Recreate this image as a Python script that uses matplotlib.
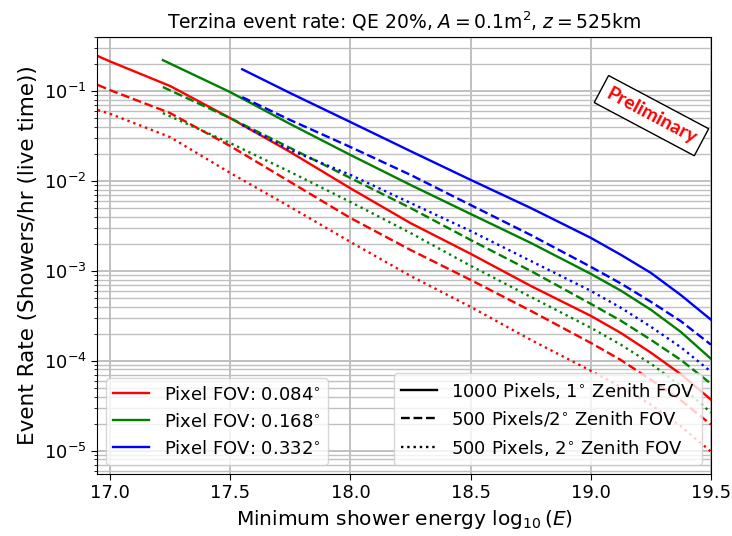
import matplotlib
matplotlib.use("Agg")
import matplotlib.pyplot as plt
from matplotlib.ticker import LogLocator, NullFormatter
from matplotlib.lines import Line2D

# ---- data ----
e_red = [16.95, 17.0, 17.25, 17.5, 17.75, 18.0, 18.25, 18.5, 18.75, 19.0, 19.125, 19.25, 19.375, 19.5]
red_solid = [0.245, 0.214, 0.114, 0.0501, 0.0210, 8.3e-3, 3.4e-3, 1.55e-3, 6.81e-4, 3.16e-4, 2.04e-4, 1.23e-4, 7.08e-5, 3.69e-5]
red_dashed = [0.117, 0.1026, 0.057, 0.0245, 9.75e-3, 3.88e-3, 1.71e-3, 7.94e-4, 3.6e-4, 1.58e-4, 1.02e-4, 6.15e-5, 3.63e-5, 1.95e-5]
red_dotted = [0.0615, 0.056, 0.0308, 0.0123, 5.14e-3, 2.10e-3, 8.79e-4, 3.98e-4, 1.71e-4, 7.74e-5, 5.13e-5, 3.24e-5, 1.86e-5, 9.75e-6]

e_green = [17.22, 17.5, 17.75, 18.0, 18.25, 18.5, 18.75, 19.0, 19.125, 19.25, 19.375, 19.5]
green_solid = [0.221, 0.0975, 0.043, 0.0195, 9.04e-3, 4.30e-3, 2.05e-3, 9.27e-4, 6.03e-4, 3.69e-4, 2.09e-4, 1.05e-4]
green_dashed = [0.111, 0.0501, 0.0233, 0.0108, 5.01e-3, 2.21e-3, 1.0e-3, 4.30e-4, 2.79e-4, 1.71e-4, 1.02e-4, 5.55e-5]
green_dotted = [0.057, 0.0264, 0.0126, 5.85e-3, 2.64e-3, 1.14e-3, 5.14e-4, 2.33e-4, 1.51e-4, 9.27e-5, 5.25e-5, 2.64e-5]

e_blue = [17.55, 17.75, 18.0, 18.25, 18.5, 18.75, 19.0, 19.125, 19.25, 19.375, 19.5]
blue_solid = [0.175, 0.095, 0.0453, 0.0215, 0.0103, 5.01e-3, 2.33e-3, 1.51e-3, 9.5e-4, 5.37e-4, 2.86e-4]
blue_dashed = [0.0857, 0.0476, 0.0239, 0.0117, 5.41e-3, 2.51e-3, 1.11e-3, 7.24e-4, 4.53e-4, 2.75e-4, 1.51e-4]
blue_dotted = [0.0419, 0.0221, 0.0117, 5.70e-3, 2.78e-3, 1.29e-3, 6.0e-4, 3.89e-4, 2.39e-4, 1.41e-4, 7.55e-5]

fov_labels = ["Pixel FOV: 0.084$^{\\circ}$", "Pixel FOV: 0.168$^{\\circ}$", "Pixel FOV: 0.332$^{\\circ}$"]
config_labels = ["1000 Pixels, 1$^{\\circ}$ Zenith FOV",
                 "500 Pixels/2$^{\\circ}$ Zenith FOV",
                 "500 Pixels, 2$^{\\circ}$ Zenith FOV"]
x_ticks = [17.0, 17.5, 18.0, 18.5, 19.0, 19.5]

# ---- figure ----
fig = plt.figure(figsize=(7.32, 5.36), dpi=100)
ax = fig.add_axes([0.1325, 0.1157, 0.8388, 0.8153])

series = [
    (e_red, red_solid, red_dashed, red_dotted, "red"),
    (e_green, green_solid, green_dashed, green_dotted, "green"),
    (e_blue, blue_solid, blue_dashed, blue_dotted, "blue"),
]
lw = 1.7
for e, s, d, o, c in series:
    ax.plot(e, s, color=c, lw=lw, ls="-")
    ax.plot(e, d, color=c, lw=lw, ls="--")
    ax.plot(e, o, color=c, lw=lw, ls=":")

ax.set_yscale("log")
ax.set_xlim(16.946, 19.5)
ax.set_ylim(5.5e-6, 0.4)
ax.set_xticks(x_ticks)
ax.set_xticklabels([f"{t:.1f}" for t in x_ticks])
ax.yaxis.set_major_locator(LogLocator(base=10, numticks=10))
ax.yaxis.set_minor_locator(LogLocator(base=10, subs=range(2, 10), numticks=100))
ax.yaxis.set_minor_formatter(NullFormatter())
ax.tick_params(axis="both", which="major", labelsize=13, length=4)
ax.tick_params(axis="y", which="minor", length=2.5)

ax.grid(True, which="major", axis="both", color="#c0c0c0", lw=1.4)
ax.grid(True, which="minor", axis="y", color="#c0c0c0", lw=1.0)
ax.set_axisbelow(True)

ax.set_xlabel("Minimum shower energy $\\log_{10}(E)$", fontsize=14.5)
ax.set_ylabel("Event Rate (Showers/hr (live time))", fontsize=15.5)
ax.set_title("Terzina event rate: QE 20%, $A = 0.1\\mathrm{m}^2$, $z = 525\\mathrm{km}$",
             fontsize=13.5)

h1 = [Line2D([], [], color=c, lw=lw) for c in ["red", "green", "blue"]]
leg1 = ax.legend(h1, fov_labels, loc="lower left", fontsize=13)
ax.add_artist(leg1)
h2 = [Line2D([], [], color="black", lw=lw, ls=ls) for ls in ["-", "--", ":"]]
ax.legend(h2, config_labels, loc="lower right", fontsize=13)

ax.text(0.903, 0.82, "Preliminary", transform=ax.transAxes, rotation=-28,
        color="red", fontsize=14, fontweight="bold", family="Lato",
        ha="center", va="center", rotation_mode="anchor",
        bbox=dict(boxstyle="square,pad=0.35", facecolor="white", edgecolor="black", lw=1))

fig.savefig("out.png", dpi=100)
